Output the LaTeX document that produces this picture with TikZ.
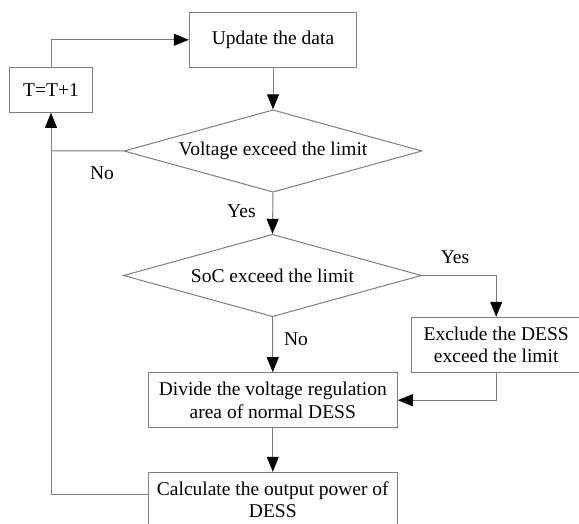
\documentclass[tikz,border=0pt]{standalone}
\usepackage{fontspec}
\setmainfont{Liberation Serif}
\usetikzlibrary{shapes.geometric,arrows.meta}
\definecolor{linegray}{RGB}{125,125,125}
\tikzset{
  box/.style={draw=linegray, line width=1pt, rectangle, inner sep=0pt, align=center},
  decision/.style={draw=linegray, line width=1pt, diamond, aspect=3.62, inner sep=0pt, minimum width=298pt, minimum height=82.4pt, align=center},
  conn/.style={draw=linegray, line width=1pt},
  arr/.style={conn, -{Triangle[length=15pt,width=12pt,color=black]}},
  lbl/.style={inner sep=0pt}
}
\begin{document}
\begin{tikzpicture}[x=1pt, y=-1pt, font=\fontsize{19.5}{22.4}\selectfont]
\useasboundingbox (0,0) rectangle (579,524);
\node[box, minimum width=167.4pt, minimum height=55pt] (upd) at (273,39.8) {Update the data};
\node[box, minimum width=83.4pt, minimum height=45pt] (tt) at (51,89.8) {T=T+1};
\node[decision] (d1) at (273,151) {Voltage exceed the limit};
\node[decision] (d2) at (272.5,275.5) {SoC exceed the limit};
\node[box, minimum width=169pt, minimum height=55.4pt] (excl) at (496.2,345) {Exclude the DESS\\exceed the limit};
\node[box, minimum width=249pt, minimum height=55pt] (div) at (272.8,400.2) {Divide the voltage regulation\\area of normal DESS};
\node[box, minimum width=249pt, minimum height=55pt] (calc) at (272.8,499.8) {Calculate the output power of\\DESS};
\coordinate (lj) at (51,150.9);
\coordinate (cl) at (148.3,494.3);
\node[lbl] (no1) at (102,173) {No};
\node[lbl] (yes1) at (241.4,211.7) {Yes};
\node[lbl] (yes2) at (455,257) {Yes};
\node[lbl] (no2) at (296,339.3) {No};
\draw[arr] (tt.north) |- (upd.west);
\draw[arr] (upd.south) -- (d1.north);
\draw[conn] (d1.west) -- (lj);
\draw[arr] (cl) -| (tt.south);
\draw[arr] (d1.south) -- (d2.north);
\draw[arr] (d2.east) -| (excl.north);
\draw[arr] (d2.south) -- (div.north);
\draw[arr] (excl.south) |- (div.east);
\draw[arr] (div.south) -- (calc.north);
\end{tikzpicture}
\end{document}
